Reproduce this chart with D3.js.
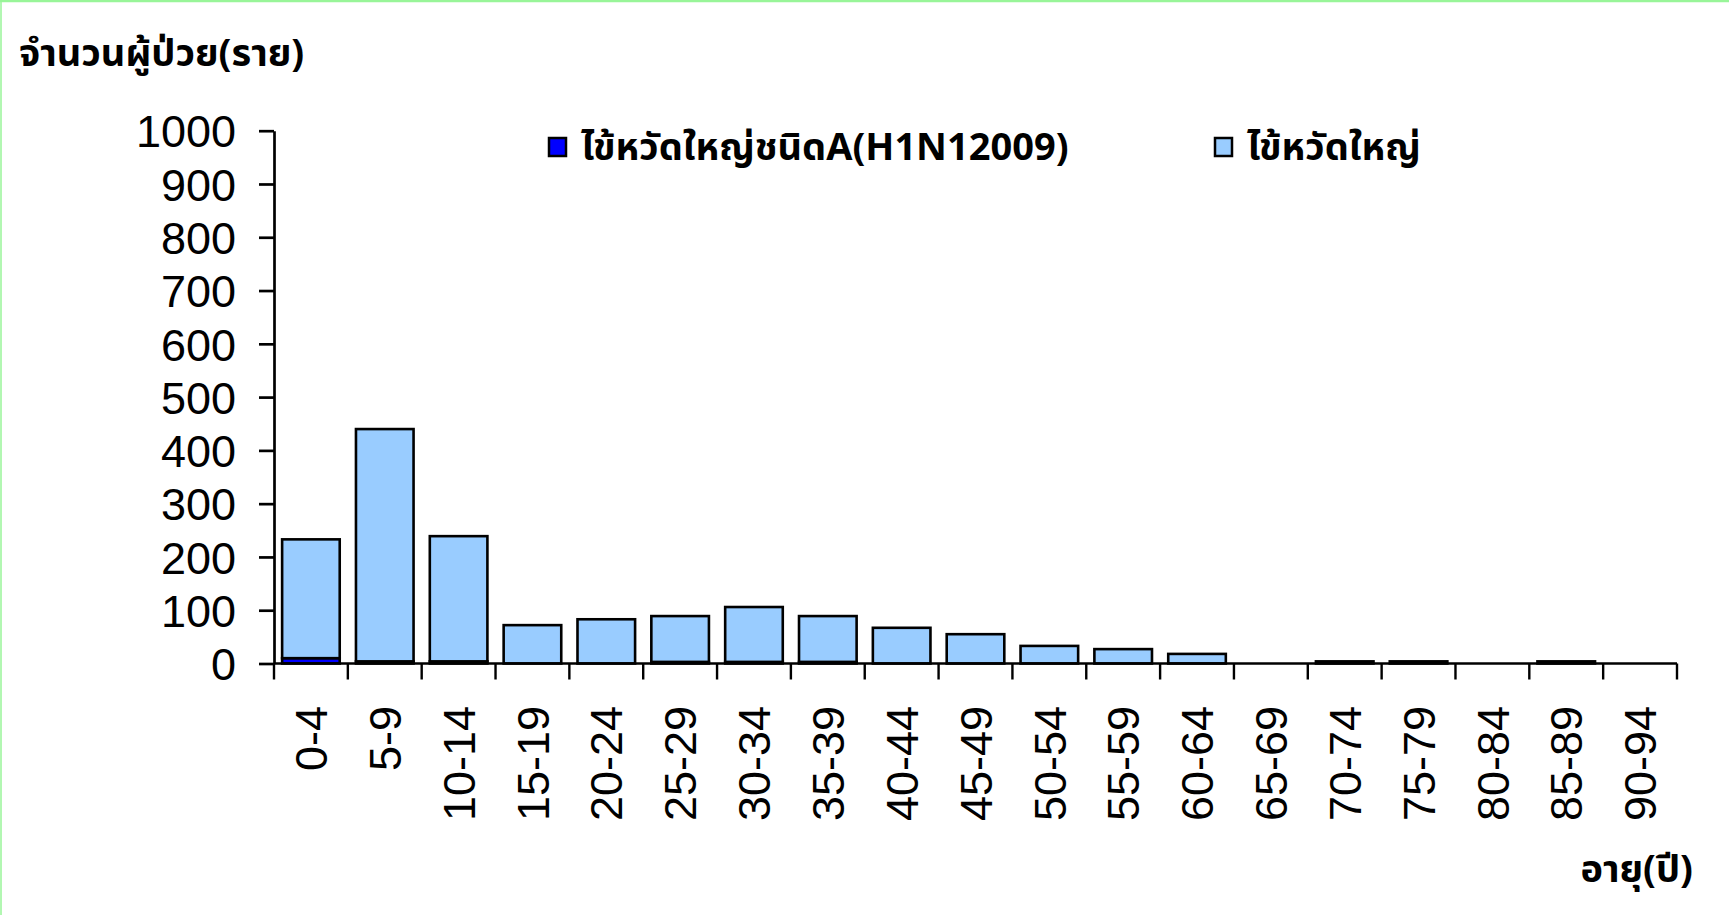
<!DOCTYPE html>
<meta charset="utf-8">
<head>
<title>ไข้หวัดใหญ่</title>
<style>
  body{ margin:0; background:#fff; }
  svg text{ font-family: "Liberation Sans", Arial, sans-serif; }
  .thai{ font-family: Tahoma, "Noto Sans Thai", "Loma", "Garuda", "Liberation Sans", sans-serif; font-weight: bold; }
</style>
</head>
<script src="https://cdnjs.cloudflare.com/ajax/libs/d3/7.8.5/d3.min.js"></script>
<div id="chart"></div>
<script>
// age groups
var categories = ["0-4","5-9","10-14","15-19","20-24","25-29","30-34","35-39","40-44","45-49",
                  "50-54","55-59","60-64","65-69","70-74","75-79","80-84","85-89","90-94"];
// ไข้หวัดใหญ่ชนิดA(H1N12009)
var h1n1 = [10,4,4,0,0,3,3,3,0,0,0,0,0,0,0,0,0,0,0];
// ไข้หวัดใหญ่ (on top)
var flu = [223,436,235,72,83,86,103,86,67,55,33,27,18,0,4,4,0,4,0];
var yTicks = [0,100,200,300,400,500,600,700,800,900,1000];
var seriesNames = ["ไข้หวัดใหญ่ชนิดA(H1N12009)", "ไข้หวัดใหญ่"];
var seriesColors = ["#0000ff", "#99ccff"];

var W = 1729, H = 915;
var svg = d3.select("#chart").append("svg")
    .attr("width", W).attr("height", H);

// green frame (top + left)
svg.append("line").attr("x1",0).attr("x2",W).attr("y1",1).attr("y2",1)
  .attr("stroke","#99f599").attr("stroke-width",2.5);
svg.append("line").attr("x1",1).attr("x2",1).attr("y1",0).attr("y2",H)
  .attr("stroke","#99f599").attr("stroke-width",1.5);

var x = d3.scaleBand()
  .domain(categories)
  .range([274, 1677])
  .paddingInner(0.22)
  .paddingOuter(0.11);

var y = d3.scaleLinear()
  .domain([0, 1000])
  .range([663.5, 130.7]);

// stacked data
var table = categories.map(function(c,i){ return {age:c, h1n1:h1n1[i], flu:flu[i]}; });
var stack = d3.stack().keys(["h1n1","flu"])(table);

var g = svg.append("g");
stack.forEach(function(layer, k){
  g.selectAll("rect.s"+k)
    .data(layer.filter(function(d){ return d[1]-d[0] > 0; }))
    .enter().append("rect")
    .attr("class","s"+k)
    .attr("x", function(d){ return x(d.data.age); })
    .attr("width", x.bandwidth())
    .attr("y", function(d){ return y(d[1]); })
    .attr("height", function(d){ return y(d[0]) - y(d[1]); })
    .attr("fill", seriesColors[k])
    .attr("stroke","#000")
    .attr("stroke-width",2.6);
});

// y axis
var yAxis = d3.axisLeft(y).tickValues(yTicks).tickFormat(d3.format("d"))
  .tickSize(15).tickPadding(23).tickSizeOuter(0);
var ya = svg.append("g").attr("transform","translate(274,0)").call(yAxis);
ya.select(".domain").attr("stroke","#000").attr("stroke-width",2.7);
ya.selectAll(".tick line").attr("stroke","#000").attr("stroke-width",2.7);
ya.selectAll(".tick text")
  .attr("fill","#000")
  .style("font-size","45px")
  .attr("dy","0.36em");

// x axis line + boundary ticks
var step = x.step();
var x0 = x.range()[0];
var bounds = d3.range(categories.length + 1).map(function(i){ return x0 + i*step; });
svg.append("line")
  .attr("x1", x0).attr("x2", x.range()[1])
  .attr("y1", y(0)).attr("y2", y(0))
  .attr("stroke","#000").attr("stroke-width",2.7);
svg.selectAll("line.xt").data(bounds).enter().append("line")
  .attr("class","xt")
  .attr("x1", function(d){ return d; }).attr("x2", function(d){ return d; })
  .attr("y1", y(0)).attr("y2", y(0) + 16)
  .attr("stroke","#000").attr("stroke-width",2.4);

// x labels (rotated)
svg.selectAll("text.xl").data(categories).enter().append("text")
  .attr("class","xl")
  .attr("transform", function(d){ return "translate(" + (x(d) + x.bandwidth()/2) + ",706) rotate(-90)"; })
  .attr("text-anchor","end")
  .attr("dy","0.36em")
  .style("font-size","45px")
  .attr("fill","#000")
  .text(function(d){ return d; });

// titles
svg.append("text").attr("class","thai")
  .attr("x",19).attr("y",66)
  .style("font-size","38px")
  .text("จำนวนผู้ป่วย(ราย)");
svg.append("text").attr("class","thai")
  .attr("x",1693).attr("y",882)
  .attr("text-anchor","end")
  .style("font-size","38px")
  .text("อายุ(ปี)");

// legend
var legendX = [549, 1215];
seriesNames.forEach(function(name, k){
  svg.append("rect")
    .attr("x", legendX[k]).attr("y", 138)
    .attr("width", 17).attr("height", 18)
    .attr("fill", seriesColors[k])
    .attr("stroke","#000").attr("stroke-width",2.5);
  svg.append("text").attr("class","thai")
    .attr("x", legendX[k] + 32).attr("y", 160)
    .style("font-size","38px")
    .text(name);
});
</script>
